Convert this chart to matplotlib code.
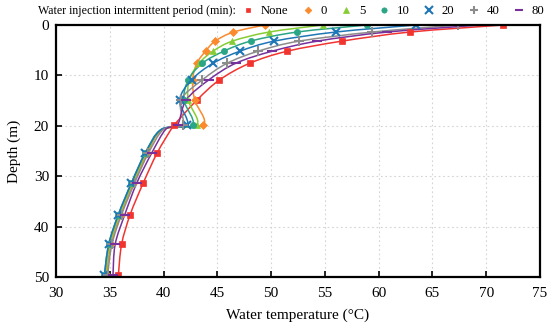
import numpy as np
import matplotlib
matplotlib.use("Agg")
import matplotlib.pyplot as plt
from matplotlib.path import Path
from matplotlib.patches import PathPatch
from matplotlib.lines import Line2D

plt.rcParams['font.family'] = ['Liberation Serif', 'DejaVu Serif']

# ---- data ----
depth = [0, 1.4, 3.2, 5.2, 7.6, 10.9, 14.9, 19.8, 20.7, 25.4, 31.4, 37.6, 43.5, 49.6]
marked = [0, 1, 2, 3, 4, 5, 6, 7, 9, 10, 11, 12, 13]   # the 20.7 m bend has no marker

t_none = [71.6, 62.9, 56.6, 51.5, 48.0, 45.2, 43.1, 41.0, 40.7, 39.4, 38.1, 36.9, 36.1, 35.8]
t_0    = [49.4, 46.5, 44.8, 43.9, 43.1, 42.7, 42.9, 43.7, 40.0, 38.5, 37.2, 36.0, 35.1, 34.7]
t_5    = [54.8, 49.8, 46.4, 44.6, 43.3, 42.4, 42.3, 43.1, 39.9, 38.4, 37.1, 35.9, 35.0, 34.6]
t_10   = [58.9, 52.4, 48.1, 45.6, 43.6, 42.3, 41.9, 42.7, 39.8, 38.3, 37.0, 35.8, 34.9, 34.5]
t_20   = [63.5, 56.0, 50.3, 47.1, 44.6, 42.6, 41.5, 42.2, 39.8, 38.3, 37.0, 35.8, 34.9, 34.5]
t_40   = [67.4, 59.4, 52.6, 48.8, 45.9, 43.6, 41.6, 41.8, 40.0, 38.6, 37.3, 36.1, 35.2, 34.8]
t_80   = [69.5, 60.8, 54.3, 50.1, 46.7, 44.2, 42.1, 41.3, 40.2, 38.9, 37.5, 36.4, 35.5, 35.3]

labels = ['None', '0', '5', '10', '20', '40', '80']
series = [t_none, t_0, t_5, t_10, t_20, t_40, t_80]
colors = ['#f23430', '#fa8a2c', '#86cc34', '#2aa585', '#1f76b6', '#8c8c8c', '#77309c']
markers = ['s', 'D', '^', 'o', 'x', '+', '_']
msizes = [4, 4, 5, 4.5, 6, 7, 7]

xticks = [30, 35, 40, 45, 50, 55, 60, 65, 70, 75]
yticks = [0, 10, 20, 30, 40, 50]


def smooth_path(x, y, k=1.0 / 6.0):
    p = np.column_stack([x, y]).astype(float)
    n = len(p)
    verts = [p[0]]
    codes = [Path.MOVETO]
    for i in range(n - 1):
        p0 = p[i - 1] if i > 0 else p[i]
        p1, p2 = p[i], p[i + 1]
        p3 = p[i + 2] if i + 2 < n else p[i + 1]
        c1 = p1 + (p2 - p0) * k
        c2 = p2 - (p3 - p1) * k
        verts += [c1, c2, p2]
        codes += [Path.CURVE4] * 3
    return Path(verts, codes)


fig = plt.figure(figsize=(5.5, 3.27), dpi=100)
ax = fig.add_axes([56 / 550, 1 - 277 / 327, 484 / 550, 252 / 327])

handles = []
for vals, c, m, ms, lab in zip(series, colors, markers, msizes, labels):
    patch = PathPatch(smooth_path(vals, depth), facecolor='none', edgecolor=c, lw=1.1)
    ax.add_patch(patch)
    mx = [vals[i] for i in marked]
    my = [depth[i] for i in marked]
    mew = 1.5 if m in ('x', '+', '_') else 0.5
    ax.plot(mx, my, linestyle='none', marker=m, color=c, markersize=ms, markeredgewidth=mew)
    handles.append(Line2D([], [], linestyle='none', marker=m, color=c,
                          markersize=ms * 0.85, markeredgewidth=mew, label=lab))

ax.set_xlim(30, 75)
ax.set_ylim(50, 0)
ax.set_xticks(xticks)
ax.set_yticks(yticks)
ax.grid(True, color='#d4d4d4', linestyle=(0, (1.5, 2.5)), linewidth=0.8)
ax.set_axisbelow(True)
for s in ax.spines.values():
    s.set_linewidth(1.6)
    s.set_color('black')
ax.tick_params(direction='in', length=4, width=1.2, labelsize=11, pad=5)
ax.tick_params(axis='x', pad=7)
ax.set_xlabel('Water temperature (°C)', fontsize=11, labelpad=6)
ax.set_ylabel('Depth (m)', fontsize=11, labelpad=9)

fig.text(38 / 550, 1 - 11 / 327, 'Water injection intermittent period (min):',
         fontsize=8.6, va='center', ha='left')
fig.legend(handles=handles, loc='center left', bbox_to_anchor=(243 / 550, 1 - 11 / 327),
           ncol=7, frameon=False, fontsize=9.2, handlelength=0.8, handletextpad=0.6,
           columnspacing=1.1, borderpad=0, borderaxespad=0)

fig.savefig('out.png', dpi=100)
